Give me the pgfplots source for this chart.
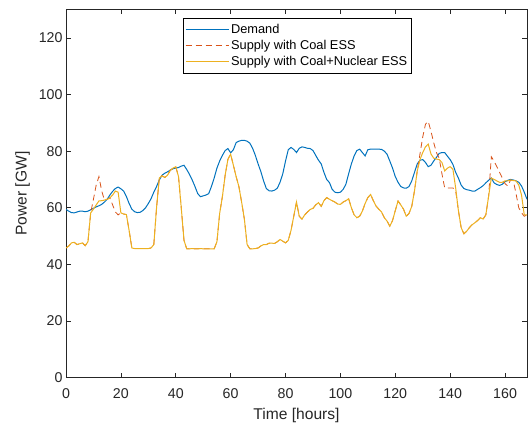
\documentclass[border=0pt]{standalone}
\usepackage{pgfplots}
\usepackage{pgfplotstable}
\pgfplotsset{compat=1.18}
\usepackage{fontspec}
\setmainfont{Liberation Sans}

\definecolor{mblue}{RGB}{0,114,189}
\definecolor{mred}{RGB}{217,83,25}
\definecolor{myellow}{RGB}{237,177,32}
\definecolor{axgray}{RGB}{38,38,38}

% hourly demand and supply over one week [GW]
% t: hour, D: demand, C: supply with coal ESS, N: supply with coal+nuclear ESS
\pgfplotstableread{
t D C N
0 59.4 45.8 45.8
1 58.8 46.5 46.5
2 58.3 47.6 47.6
3 58.2 47.8 47.8
4 58.5 47.0 47.0
5 58.8 47.3 47.3
6 58.8 47.6 47.6
7 58.6 46.6 46.6
8 58.8 48.0 48.0
9 59.3 58.2 58.2
10 59.8 63.0 59.5
11 60.3 68.0 61.0
12 60.7 71.0 62.4
13 61.2 66.0 62.5
14 62.0 62.7 62.7
15 63.0 63.0 63.0
16 64.5 63.5 63.5
17 65.8 61.0 64.5
18 66.8 58.5 65.9
19 67.3 57.5 65.5
20 66.7 58.2 58.2
21 65.9 57.8 57.8
22 64.0 57.6 57.6
23 61.5 52.0 52.0
24 59.5 45.8 45.8
25 58.6 45.6 45.6
26 58.3 45.6 45.6
27 58.4 45.6 45.6
28 59.0 45.6 45.6
29 60.0 45.6 45.6
30 61.5 45.6 45.6
31 63.2 45.8 45.8
32 65.5 47.0 47.0
33 67.5 60.0 60.0
34 69.8 70.5 70.5
35 71.5 71.3 71.3
36 72.2 70.7 70.7
37 72.7 71.5 71.5
38 73.3 73.2 73.2
39 73.8 74.0 74.0
40 74.0 74.5 74.5
41 74.2 71.0 71.0
42 74.7 60.0 60.0
43 75.0 48.5 48.5
44 73.5 45.5 45.5
45 71.8 45.5 45.5
46 69.8 45.6 45.6
47 67.5 45.5 45.5
48 65.0 45.5 45.5
49 63.9 45.6 45.6
50 64.2 45.5 45.5
51 64.5 45.5 45.5
52 65.0 45.5 45.5
53 67.5 45.5 45.5
54 70.5 45.5 45.5
55 74.0 48.0 48.0
56 76.5 58.0 58.0
57 78.5 64.0 64.0
58 80.2 71.5 71.5
59 80.9 77.1 77.1
60 79.4 78.9 78.9
61 80.5 75.0 75.0
62 83.0 71.0 71.0
63 83.5 67.5 67.5
64 83.8 62.0 62.0
65 83.8 56.0 56.0
66 83.5 47.0 47.0
67 82.8 45.5 45.5
68 81.0 45.5 45.5
69 78.5 45.6 45.6
70 75.5 45.8 45.8
71 72.8 46.5 46.5
72 69.5 47.0 47.0
73 66.8 47.0 47.0
74 66.0 47.5 47.5
75 65.9 47.5 47.5
76 66.2 47.4 47.4
77 66.9 48.0 48.0
78 69.0 48.8 48.8
79 72.0 48.2 48.2
80 76.5 47.6 47.6
81 80.5 48.5 48.5
82 81.3 52.0 52.0
83 80.6 57.0 57.0
84 79.5 62.0 62.0
85 81.0 57.0 57.0
86 81.5 56.0 56.0
87 81.3 57.5 57.5
88 81.0 58.5 58.5
89 80.9 59.4 59.4
90 80.2 59.8 59.8
91 78.5 61.0 61.0
92 76.8 61.8 61.8
93 75.5 60.5 60.5
94 72.5 62.5 62.5
95 70.0 63.6 63.6
96 68.9 63.0 63.0
97 66.5 62.5 62.5
98 65.5 62.0 62.0
99 65.3 61.3 61.3
100 65.5 61.2 61.2
101 66.5 62.0 62.0
102 68.3 62.5 62.5
103 72.0 63.2 63.2
104 75.5 60.0 60.0
105 78.3 57.5 57.5
106 80.2 56.5 56.5
107 80.7 57.0 57.0
108 79.5 58.8 58.8
109 78.3 61.5 61.5
110 80.5 63.6 63.6
111 80.7 64.7 64.7
112 80.7 62.5 62.5
113 80.7 60.6 60.6
114 80.7 59.5 59.5
115 80.6 58.5 58.5
116 80.0 56.5 56.5
117 78.9 55.3 55.3
118 76.5 53.5 53.5
119 74.0 55.5 55.5
120 71.0 59.0 59.0
121 69.0 62.4 62.4
122 67.5 61.0 61.0
123 67.0 59.5 59.5
124 66.9 57.0 57.0
125 67.5 58.0 58.0
126 69.5 60.5 60.5
127 72.5 66.0 66.0
128 75.5 73.0 73.0
129 76.8 79.0 77.0
130 77.0 85.0 79.5
131 76.0 89.5 81.5
132 74.5 90.5 82.5
133 75.0 87.0 79.0
134 76.5 83.0 77.5
135 77.8 79.5 77.2
136 79.2 77.5 77.0
137 79.5 72.0 76.0
138 79.5 67.0 73.0
139 78.2 67.0 74.0
140 77.0 67.0 74.5
141 75.3 67.0 73.6
142 72.5 66.0 67.0
143 70.5 59.0 59.0
144 68.0 53.0 53.0
145 66.8 50.8 50.8
146 66.4 51.7 51.7
147 66.2 53.0 53.0
148 65.9 54.0 54.0
149 65.9 54.7 54.7
150 66.5 55.5 55.5
151 67.1 56.5 56.5
152 67.8 56.0 56.0
153 68.8 57.5 57.5
154 69.7 64.0 64.0
155 70.5 78.0 70.5
156 68.8 76.5 70.0
157 68.2 74.5 69.5
158 67.9 72.5 69.0
159 68.3 70.5 69.0
160 69.2 68.5 69.5
161 69.7 67.7 69.5
162 70.0 69.8 69.8
163 69.8 69.6 69.6
164 69.5 65.0 69.5
165 69.0 60.0 68.0
166 67.7 58.2 64.5
167 65.5 57.0 57.5
168 63.0 57.5 57.5
}\powertable

\begin{document}
\begin{tikzpicture}
\begin{axis}[
  at={(0pt,0pt)}, anchor=south west,
  scale only axis,
  width=461pt, height=368.2pt,
  xmin=0, xmax=168, ymin=0, ymax=130,
  xtick={0,20,...,160}, ytick={0,20,...,120},
  tick align=inside,
  major tick length=5pt,
  axis line style={color=axgray, line width=0.6pt},
  every tick/.style={color=axgray, line width=0.6pt},
  /pgf/number format/assume math mode=true,
  ticklabel style={font=\fontsize{14.2}{16}\selectfont, text=axgray},
  xticklabel style={yshift=-7pt},
  xlabel={Time [hours]},
  ylabel={Power [GW]},
  label style={font=\fontsize{15.6}{18}\selectfont, text=axgray},
  xlabel style={at={(axis description cs:0.5,-0.1013)}, anchor=center},
  ylabel style={at={(axis description cs:-0.0944,0.5)}, anchor=center},
  legend cell align=left,
  legend style={
    at={(rel axis cs:0.2538,0.977)}, anchor=north west,
    draw=black, line width=0.6pt,
    font=\fontsize{12.8}{14}\selectfont,
    inner xsep=2pt, inner ysep=4pt,
    row sep=1.2pt,
  },
  legend image code/.code={\draw[#1, line width=0.8pt] (0pt,0pt) -- (43pt,0pt);},
]
\addplot[mblue, line width=1.0pt] table[x=t, y=D] {\powertable};
\addlegendentry{Demand}
\addplot[mred, line width=0.8pt, dash pattern=on 6pt off 4pt] table[x=t, y=C] {\powertable};
\addlegendentry{Supply with Coal ESS}
\addplot[myellow, line width=1.0pt] table[x=t, y=N] {\powertable};
\addlegendentry{Supply with Coal+Nuclear ESS}
\end{axis}
\pgfresetboundingbox
\path[use as bounding box] (-66pt,-48.3pt) rectangle (463pt,377.7pt);
\end{tikzpicture}
\end{document}
